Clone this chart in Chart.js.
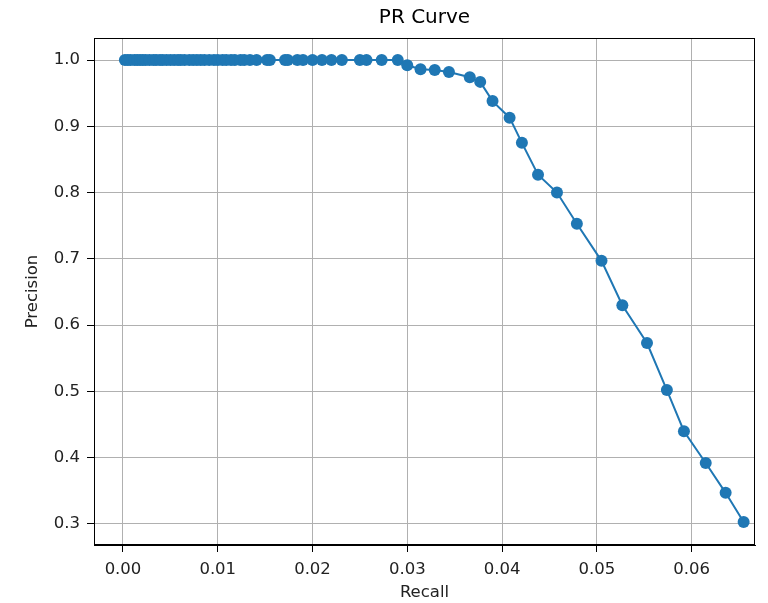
<!DOCTYPE html>
<html>
<head>
<meta charset="utf-8">
<script src="https://cdn.jsdelivr.net/npm/chart.js@4/dist/chart.umd.min.js"></script>
<style>
html,body{margin:0;padding:0;background:#fff;}
#wrap{width:768px;height:603px;}
</style>
</head>
<body>
<div id="wrap"><canvas id="c" width="768" height="603"></canvas></div>
<script>
const recall = [0.0002,0.0005,0.0008,0.0012,0.0015,0.0018,0.0021,0.0024,0.0028,0.0032,0.0035,0.0039,0.0042,0.0046,0.0050,0.0054,0.0058,0.0061,0.0065,0.0070,0.0074,0.0078,0.0082,0.0086,0.0091,0.0096,0.0100,0.0105,0.0109,0.0114,0.0118,0.0124,0.0128,0.0134,0.0141,0.0152,0.0155,0.0171,0.0174,0.0184,0.0190,0.0200,0.0210,0.0220,0.0231,0.0250,0.0257,0.0273,0.0290,
  0.0300,0.0314,0.0329,0.0344,0.0366,0.0377,0.0390,0.0408,0.0421,0.0438,0.0458,0.0479,0.0505,0.0527,0.0553,0.0574,0.0592,0.0615,0.0636,0.0655];
const precision = [1,1,1,1,1,1,1,1,1,1,1,1,1,1,1,1,1,1,1,1,1,1,1,1,1,1,1,1,1,1,1,1,1,1,1,1,1,1,1,1,1,1,1,1,1,1,1,1,1,
  0.992,0.986,0.985,0.982,0.974,0.967,0.938,0.913,0.875,0.827,0.800,0.753,0.697,0.630,0.573,0.502,0.440,0.392,0.347,0.303];
const xTicks = [0.00,0.01,0.02,0.03,0.04,0.05,0.06];
const xTickLabels = ['0.00','0.01','0.02','0.03','0.04','0.05','0.06'];
const yTicks = [0.3,0.4,0.5,0.6,0.7,0.8,0.9,1.0];
const yTickLabels = ['0.3','0.4','0.5','0.6','0.7','0.8','0.9','1.0'];

const points = recall.map((r,i)=>({x:r,y:precision[i]}));
const FONT = "'DejaVu Sans', sans-serif";

const frame = {
  id:'frame',
  afterDraw(chart){
    const a = chart.chartArea, ctx = chart.ctx;
    ctx.save();
    ctx.strokeStyle = '#000';
    ctx.lineWidth = 1;
    ctx.strokeRect(Math.round(a.left)+0.5, Math.round(a.top)+0.5, Math.round(a.right-a.left)-1, Math.round(a.bottom-a.top)-1);
    ctx.restore();
  }
};

new Chart(document.getElementById('c'), {
  type:'scatter',
  data:{datasets:[{
    data:points,
    showLine:true,
    borderColor:'#1f77b4',
    backgroundColor:'#1f77b4',
    borderWidth:2,
    pointRadius:6,
    pointHoverRadius:6,
    pointBorderWidth:0
  }]},
  options:{
    responsive:false,
    animation:false,
    layout:{padding:{left:0,right:13,top:0,bottom:0}},
    plugins:{
      legend:{display:false},
      tooltip:{enabled:false},
      title:{display:true,text:'PR Curve',fullSize:false,color:'#000',
        font:{family:FONT,size:20,weight:'normal',lineHeight:1.2},padding:{top:6,bottom:8}}
    },
    scales:{
      x:{
        type:'linear',min:-0.00306,max:0.0667,
        afterBuildTicks(s){ s.ticks = xTicks.map(v=>({value:v})); },
        afterFit(s){ s.height = 58; },
        ticks:{callback:(v,i)=>xTickLabels[i],color:'#222',padding:8,maxRotation:0,autoSkip:false,
          font:{family:FONT,size:16.5}},
        grid:{color:'#b0b0b0',lineWidth:1,tickLength:7,tickColor:'#000',drawOnChartArea:true},
        border:{display:true,color:'#000'},
        title:{display:true,text:'Recall',color:'#222',font:{family:FONT,size:16.5},padding:{top:0,bottom:0}}
      },
      y:{
        type:'linear',min:0.2683,max:1.0332,
        afterBuildTicks(s){ s.ticks = yTicks.map(v=>({value:v})); },
        afterFit(s){ s.width = 94; },
        ticks:{callback:(v,i)=>yTickLabels[i],color:'#222',padding:7,autoSkip:false,
          font:{family:FONT,size:16.5}},
        grid:{color:'#b0b0b0',lineWidth:1,tickLength:7,tickColor:'#000'},
        border:{display:true,color:'#000'},
        title:{display:true,text:'Precision',color:'#222',font:{family:FONT,size:16.5},padding:{top:23,bottom:0}}
      }
    }
  },
  plugins:[frame]
});
</script>
</body>
</html>
